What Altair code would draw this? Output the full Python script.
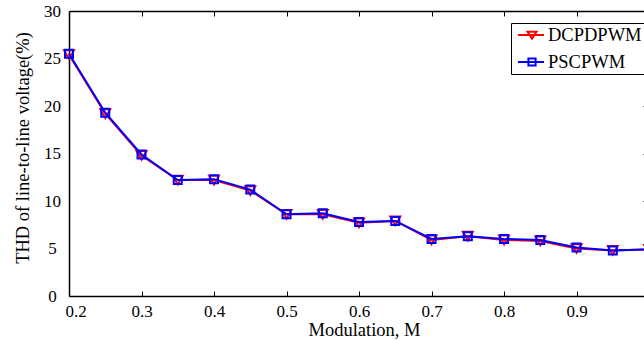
import altair as alt
import pandas as pd

# ---- data ----
modulation = [0.2, 0.25, 0.3, 0.35, 0.4, 0.45, 0.5, 0.55, 0.6, 0.65,
              0.7, 0.75, 0.8, 0.85, 0.9, 0.95, 1.0]
thd_dcpdpwm = [25.4, 19.2, 14.8, 12.2, 12.2, 11.1, 8.6, 8.6, 7.7, 7.9,
               5.9, 6.3, 5.9, 5.8, 5.0, 4.8, 4.9]
thd_pscpwm = [25.5, 19.3, 14.9, 12.2, 12.3, 11.2, 8.6, 8.7, 7.8, 7.9,
              6.0, 6.3, 6.0, 5.9, 5.1, 4.8, 4.9]
series_names = ["DCPDPWM", "PSCPWM"]
series_colors = ["#ff0000", "#0000ff"]
x_ticks = [0.2, 0.3, 0.4, 0.5, 0.6, 0.7, 0.8, 0.9]
y_ticks = [0, 5, 10, 15, 20, 25, 30]

rows = []
for name, vals in zip(series_names, [thd_dcpdpwm, thd_pscpwm]):
    for m, v in zip(modulation, vals):
        rows.append({"M": m, "THD": v, "series": name})
df = pd.DataFrame(rows)

FONT = "Liberation Serif"
xscale = alt.Scale(domain=[0.2, 0.993], nice=False, zero=False)
yscale = alt.Scale(domain=[0, 30], nice=False, zero=False)

# legend symbols: line with a hollow marker on it
legend_paths = [
    "M-0.556,0H2.333M0.5,-0.36H1.5L1,0.4Z",
    "M-0.556,0H2.333M0.6,-0.38H1.4V0.38H0.6Z",
]

common = dict(grid=False, domainColor="black", tickColor="black",
              labelColor="black", titleColor="black", labelFont=FONT,
              titleFont=FONT, titleFontWeight="normal")

x_main = alt.Axis(orient="bottom", values=x_ticks, format=".1f", ticks=False,
                  domain=True, domainWidth=1.5, labelFontSize=17, labelPadding=7,
                  labelFlush=True, labelFlushOffset=4, titleFontSize=18.5,
                  titleX=295, titleY=39, titleBaseline="alphabetic", **common)
y_main = alt.Axis(orient="left", values=y_ticks, format="d", ticks=False,
                  domain=True, domainWidth=1.5, labelFontSize=17,
                  labelAlign="center", labelPadding=17, labelFlush=True,
                  labelBaseline="middle", titleFontSize=18.5, titleX=-41,
                  titleY=136.5, titleBaseline="alphabetic", titleAlign="center",
                  **common)
x_bottom_in = alt.Axis(orient="top", offset=-285, values=x_ticks, labels=False,
                       ticks=True, tickSize=5, tickWidth=1, domain=False, **common)
x_top = alt.Axis(orient="bottom", offset=-285, values=x_ticks, labels=False,
                 ticks=True, tickSize=5, tickWidth=1, domain=True,
                 domainWidth=1.5, **common)
y_right_in = alt.Axis(orient="left", offset=-579, values=y_ticks, labels=False,
                      ticks=True, tickSize=5, tickWidth=1, domain=False, **common)

base = alt.Chart(df)
red = base.transform_filter(alt.datum.series == "DCPDPWM")
blue = base.transform_filter(alt.datum.series == "PSCPWM")

l_red = red.mark_line(color="#ff0000", strokeWidth=2).encode(
    x=alt.X("M:Q", scale=xscale, axis=x_main, title="Modulation, M"),
    y=alt.Y("THD:Q", scale=yscale, axis=y_main,
            title="THD of line-to-line voltage(%)"),
)
p_red = red.mark_point(shape="triangle-down", filled=False, color="#ff0000",
                       size=100, strokeWidth=2, opacity=1).encode(
    x=alt.X("M:Q", scale=xscale, axis=x_bottom_in, title=None),
    y=alt.Y("THD:Q", scale=yscale, axis=y_right_in, title=None),
)
l_blue = blue.mark_line(color="#0000ff", strokeWidth=2).encode(
    x=alt.X("M:Q", scale=xscale, axis=x_top, title=None),
    y=alt.Y("THD:Q", scale=yscale, axis=None),
)
p_blue = blue.mark_point(shape="square", filled=False, color="#0000ff",
                         size=64, strokeWidth=2, opacity=1).encode(
    x=alt.X("M:Q", scale=xscale, axis=None),
    y=alt.Y("THD:Q", scale=yscale, axis=None),
)

leg = alt.Legend(orient="none", legendX=442, legendY=12, title=None,
                 strokeColor="black", fillColor="white", padding=2,
                 rowPadding=7, symbolSize=324, symbolStrokeWidth=2,
                 symbolFillColor="transparent",
                 symbolOpacity=1, labelFont=FONT, labelFontSize=18.5,
                 labelColor="black", labelOffset=15, labelLimit=300,
                 cornerRadius=0)

carrier = base.transform_filter("datum.M > 5").mark_point(
    filled=False, strokeWidth=2, opacity=1).encode(
    x=alt.X("M:Q", scale=xscale, axis=None),
    y=alt.Y("THD:Q", scale=yscale, axis=None),
    color=alt.Color("series:N", scale=alt.Scale(domain=series_names,
                    range=series_colors), legend=leg),
    shape=alt.Shape("series:N", scale=alt.Scale(domain=series_names,
                    range=legend_paths), legend=leg),
)

chart = alt.layer(l_red, p_red, l_blue, p_blue, carrier).resolve_axis(
    x="independent", y="independent"
).properties(
    width=575, height=285,
    padding={"left": 69, "top": 11, "right": 0, "bottom": 44},
    autosize=alt.AutoSizeParams(type="none"),
    background="white",
).configure_view(stroke=None)

chart.save("out.html", embed_options={"renderer": "svg", "actions": False})
